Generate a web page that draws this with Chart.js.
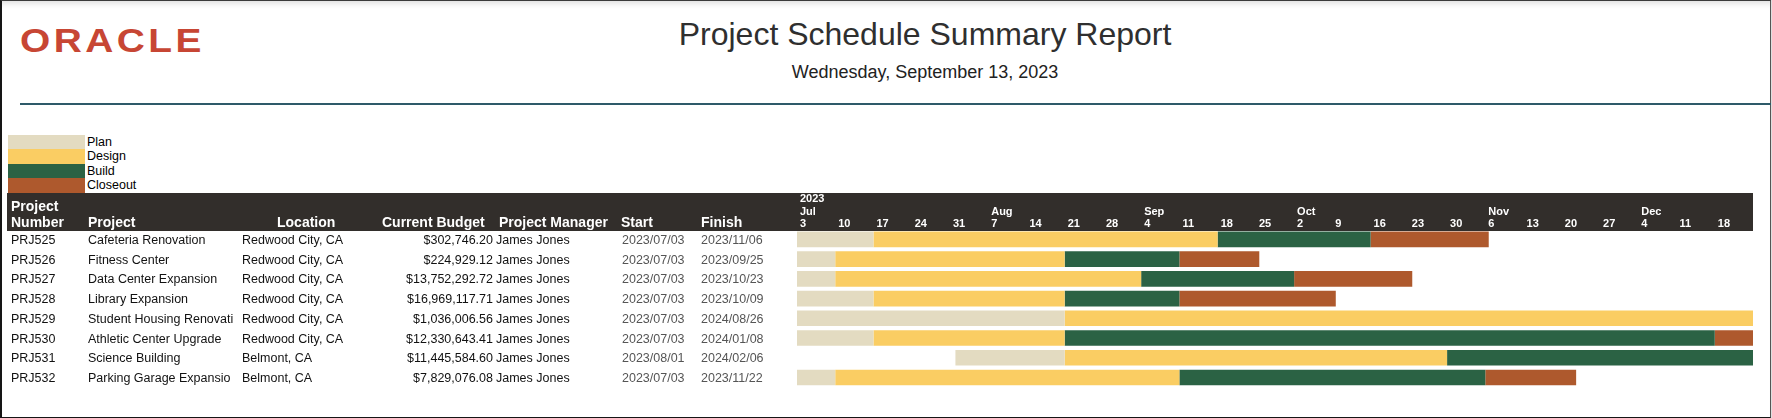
<!DOCTYPE html>
<html lang="en">
<head>
<meta charset="utf-8">
<title>Project Schedule Summary Report</title>
<script src="https://cdn.jsdelivr.net/npm/chart.js@4.4.1/dist/chart.umd.min.js"></script>
<style>
  html, body { margin: 0; padding: 0; }
  body {
    width: 1772px;
    height: 418px;
    position: relative;
    overflow: hidden;
    background: #dedede;
    font-family: "Liberation Sans", Arial, sans-serif;
  }
  #page {
    position: absolute;
    left: 0;
    top: 0;
    width: 1771px;
    height: 418px;
    box-sizing: border-box;
    background: #fff;
    border-left: 2px solid #151515;
    border-bottom: 1px solid #151515;
    border-top: 1px solid #3a3a3a;
    border-right: 1px solid #555;
    box-shadow: inset 0 8px 7px -6px rgba(0, 0, 0, 0.15);
  }
  #logo {
    position: absolute;
    left: 20px;
    top: 23.6px;
    font-weight: bold;
    font-size: 33.5px;
    line-height: 33.5px;
    letter-spacing: 3px;
    color: #c74634;
    transform: scaleX(1.16);
    transform-origin: 0 0;
    white-space: nowrap;
  }
  #title {
    position: absolute;
    left: 925px;
    top: 18px;
    transform: translateX(-50%);
    font-size: 32px;
    line-height: 32px;
    color: #2f2f2f;
    white-space: nowrap;
  }
  #subtitle {
    position: absolute;
    left: 925px;
    top: 62.8px;
    transform: translateX(-50%);
    font-size: 18px;
    line-height: 18px;
    color: #222;
    white-space: nowrap;
  }
  #rule {
    position: absolute;
    left: 20px;
    top: 103px;
    width: 1751px;
    height: 2px;
    background: #2e5a69;
  }
  #legend {
    position: absolute;
    left: 8px;
    top: 134.5px;
  }
  .legendItem {
    height: 14.5px;
    display: flex;
    align-items: center;
  }
  .legendSwatch {
    width: 77px;
    height: 14.5px;
  }
  .legendText {
    margin-left: 2px;
    font-size: 12.5px;
    color: #000;
  }
  #ganttChart {
    position: absolute;
    left: 0;
    top: 0;
  }
</style>
</head>
<body>
<div id="page"></div>
<div id="logo">ORACLE</div>
<div id="title">Project Schedule Summary Report</div>
<div id="subtitle">Wednesday, September 13, 2023</div>
<div id="rule"></div>
<div id="legend"></div>
<canvas id="ganttChart" width="1772" height="418"></canvas>

<script>
// ---- data ----
const axisOrigin = "2023-07-03";

const projectNumbers = ["PRJ525", "PRJ526", "PRJ527", "PRJ528", "PRJ529", "PRJ530", "PRJ531", "PRJ532"];
const projectNames = [
  "Cafeteria Renovation", "Fitness Center", "Data Center Expansion", "Library Expansion",
  "Student Housing Renovati", "Athletic Center Upgrade", "Science Building", "Parking Garage Expansio",
];
const projectLocations = [
  "Redwood City, CA", "Redwood City, CA", "Redwood City, CA", "Redwood City, CA",
  "Redwood City, CA", "Redwood City, CA", "Belmont, CA", "Belmont, CA",
];
const currentBudgets = [
  "$302,746.20", "$224,929.12", "$13,752,292.72", "$16,969,117.71",
  "$1,036,006.56", "$12,330,643.41", "$11,445,584.60", "$7,829,076.08",
];
const projectManagers = ["James Jones", "James Jones", "James Jones", "James Jones",
  "James Jones", "James Jones", "James Jones", "James Jones"];
const startDates = ["2023/07/03", "2023/07/03", "2023/07/03", "2023/07/03",
  "2023/07/03", "2023/07/03", "2023/08/01", "2023/07/03"];
const finishDates = ["2023/11/06", "2023/09/25", "2023/10/23", "2023/10/09",
  "2024/08/26", "2024/01/08", "2024/02/06", "2023/11/22"];

const headerLabels = [["Project", "Number"], ["Project"], ["Location"], ["Current Budget"],
  ["Project Manager"], ["Start"], ["Finish"]];

const phaseNames = ["Plan", "Design", "Build", "Closeout"];
const phaseColors = ["#e3dbc1", "#facd63", "#2b6244", "#ae592d"];

// [from, to] for each project; the finish day runs into the afternoon
const planDates = [
  ["2023-07-03", "2023-07-17"], ["2023-07-03", "2023-07-10"], ["2023-07-03", "2023-07-10"], ["2023-07-03", "2023-07-17"],
  ["2023-07-03", "2023-08-21"], ["2023-07-03", "2023-07-17"], ["2023-08-01", "2023-08-21"], ["2023-07-03", "2023-07-10"],
];
const designDates = [
  ["2023-07-17", "2023-09-18"], ["2023-07-10", "2023-08-21"], ["2023-07-10", "2023-09-04"], ["2023-07-17", "2023-08-21"],
  ["2023-08-21", "2024-02-26"], ["2023-07-17", "2023-08-21"], ["2023-08-21", "2023-10-30"], ["2023-07-10", "2023-09-11"],
];
const buildDates = [
  ["2023-09-18", "2023-10-16"], ["2023-08-21", "2023-09-11"], ["2023-09-04", "2023-10-02"], ["2023-08-21", "2023-09-11"],
  ["2024-02-26", "2024-07-29"], ["2023-08-21", "2023-12-18"], ["2023-10-30", "2024-01-22"], ["2023-09-11", "2023-11-06"],
];
const closeoutDates = [
  ["2023-10-16", "2023-11-06T15:00"], ["2023-09-11", "2023-09-25T15:00"], ["2023-10-02", "2023-10-23T15:00"], ["2023-09-11", "2023-10-09T15:00"],
  ["2024-07-29", "2024-08-26T15:00"], ["2023-12-18", "2024-01-08T15:00"], ["2024-01-22", "2024-02-06T15:00"], ["2023-11-06", "2023-11-22T15:00"],
];

// timeline header: one entry per week starting at the axis origin
const weekLabels = ["3", "10", "17", "24", "31", "7", "14", "21", "28", "4", "11", "18", "25",
  "2", "9", "16", "23", "30", "6", "13", "20", "27", "4", "11", "18"];
const monthLabels = ["Jul", "", "", "", "", "Aug", "", "", "", "Sep", "", "", "",
  "Oct", "", "", "", "", "Nov", "", "", "", "Dec", "", ""];
const yearLabels = ["2023", "", "", "", "", "", "", "", "", "", "", "", "",
  "", "", "", "", "", "", "", "", "", "", "", ""];

// ---- layout ----
const fontFamily = '"Liberation Sans", Arial, sans-serif';
const headerBand = { x: 7, y: 193, w: 1746, h: 38, color: "#322e2b" };
const columnX = [11, 88, 242, 493, 496, 622, 701];
const headerX = [11, 88, 277, 382, 499, 621, 701];

function toUtc(strDate) {
  const parts = strDate.split("T");
  const d = parts[0].split("-").map(Number);
  const t = parts[1] ? parts[1].split(":").map(Number) : [0, 0];
  return Date.UTC(d[0], d[1] - 1, d[2], t[0], t[1]);
}

function dayIndex(strDate) {
  return (toUtc(strDate) - toUtc(axisOrigin)) / 86400000;
}

function toRanges(arrDates) {
  return arrDates.map((d) => [dayIndex(d[0]), dayIndex(d[1])]);
}

// legend
const legendBox = document.getElementById("legend");
phaseNames.forEach((name, i) => {
  const item = document.createElement("div");
  item.className = "legendItem";
  const swatch = document.createElement("div");
  swatch.className = "legendSwatch";
  swatch.style.background = phaseColors[i];
  const text = document.createElement("span");
  text.className = "legendText";
  text.textContent = name;
  item.appendChild(swatch);
  item.appendChild(text);
  legendBox.appendChild(item);
});

// draws the dark header band and the table columns left of the bars
const tablePlugin = {
  id: "scheduleTable",
  beforeDraw(chart) {
    const ctx = chart.ctx;
    const yScale = chart.scales.y;
    ctx.save();
    ctx.fillStyle = headerBand.color;
    ctx.fillRect(headerBand.x, headerBand.y, headerBand.w, headerBand.h);

    ctx.fillStyle = "#ffffff";
    ctx.font = "bold 14px " + fontFamily;
    ctx.textAlign = "left";
    ctx.textBaseline = "alphabetic";
    headerLabels.forEach((lines, c) => {
      lines.forEach((line, k) => {
        const y = 226.5 - (lines.length - 1 - k) * 16;
        ctx.fillText(line, headerX[c], y);
      });
    });

    ctx.font = "12.5px " + fontFamily;
    projectNumbers.forEach((num, i) => {
      const y = yScale.getPixelForValue(i) + 4.6;
      ctx.fillStyle = "#111";
      ctx.textAlign = "left";
      ctx.fillText(num, columnX[0], y);
      ctx.fillText(projectNames[i], columnX[1], y);
      ctx.fillText(projectLocations[i], columnX[2], y);
      ctx.textAlign = "right";
      ctx.fillText(currentBudgets[i], columnX[3], y);
      ctx.textAlign = "left";
      ctx.fillText(projectManagers[i], columnX[4], y);
      ctx.fillStyle = "#555";
      ctx.fillText(startDates[i], columnX[5], y);
      ctx.fillText(finishDates[i], columnX[6], y);
    });
    ctx.restore();
  },
};

const phaseRanges = [planDates, designDates, buildDates, closeoutDates];

const ganttChart = new Chart(document.getElementById("ganttChart"), {
  type: "bar",
  plugins: [tablePlugin],
  data: {
    labels: projectNumbers,
    datasets: phaseNames.map((name, i) => ({
      label: name,
      data: toRanges(phaseRanges[i]),
      backgroundColor: phaseColors[i],
      borderWidth: 0,
      grouped: false,
      clip: 0,
      barPercentage: 0.79,
      categoryPercentage: 1,
    })),
  },
  options: {
    indexAxis: "y",
    responsive: false,
    animation: false,
    devicePixelRatio: 1,
    layout: {
      padding: { left: 797, right: 19, top: 191.5, bottom: 30.6 },
    },
    scales: {
      x: {
        type: "linear",
        position: "top",
        min: 0,
        max: weekLabels.length * 7,
        grid: { display: false, drawTicks: false },
        border: { display: false },
        afterFit: (scale) => { scale.height = 38; },
        ticks: {
          stepSize: 7,
          autoSkip: false,
          maxTicksLimit: 40,
          maxRotation: 0,
          minRotation: 0,
          align: "start",
          labelOffset: 3,
          padding: -1,
          color: "#ffffff",
          font: { family: fontFamily, size: 11, weight: "bold", lineHeight: 1.15 },
          callback: function (value) {
            const i = Math.round(value / 7);
            if (i >= weekLabels.length) {
              return "";
            }
            const lines = [];
            if (yearLabels[i]) lines.push(yearLabels[i]);
            if (monthLabels[i]) lines.push(monthLabels[i]);
            lines.push(weekLabels[i]);
            return lines.length === 1 ? lines[0] : lines;
          },
        },
      },
      y: {
        type: "category",
        display: false,
      },
    },
    plugins: {
      legend: { display: false },
      title: { display: false },
      tooltip: { enabled: false },
    },
  },
});
</script>
</body>
</html>
